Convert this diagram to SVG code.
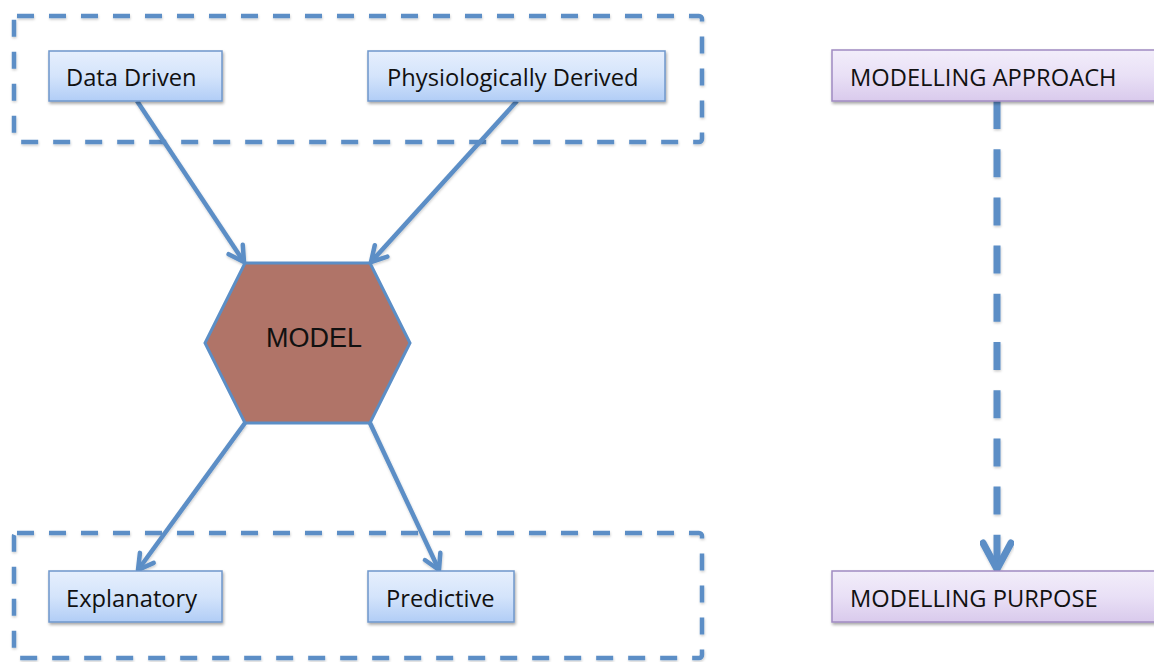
<svg xmlns="http://www.w3.org/2000/svg" width="1154" height="662" viewBox="0 0 1154 662">
  <style>
    .box { stroke: #6f97cb; stroke-width: 1.5; filter: url(#shadow); }
    .blue { fill: url(#blueFill); }
    .purple { fill: url(#purpleFill); stroke: #a08bc2; }
    .label { font-family: "Open Sans", "Liberation Sans", sans-serif; font-size: 23.7px; fill: #111; }
    .group { fill: none; stroke: #5b8ec6; stroke-width: 4.5; stroke-dasharray: 17 15; filter: url(#lineShadow); }
    .link { fill: none; stroke: #5b8ec6; stroke-width: 4.5; marker-end: url(#chevron); filter: url(#lineShadow); }
  </style>
  <defs>
    <linearGradient id="blueFill" x1="0" y1="0" x2="0" y2="1">
      <stop offset="0" stop-color="#e6effd"/>
      <stop offset="0.5" stop-color="#d4e4fb"/>
      <stop offset="1" stop-color="#b1cdf6"/>
    </linearGradient>
    <linearGradient id="purpleFill" x1="0" y1="0" x2="0" y2="1">
      <stop offset="0" stop-color="#f2edfa"/>
      <stop offset="0.5" stop-color="#e9e0f6"/>
      <stop offset="1" stop-color="#d9caec"/>
    </linearGradient>
    <filter id="shadow" x="-10%" y="-20%" width="120%" height="150%">
      <feDropShadow dx="1" dy="2" stdDeviation="1.5" flood-color="#000" flood-opacity="0.35"/>
    </filter>
    <filter id="lineShadow" x="-10%" y="-10%" width="120%" height="120%">
      <feDropShadow dx="0.5" dy="1.5" stdDeviation="1" flood-color="#000" flood-opacity="0.2"/>
    </filter>
    <marker id="chevron" markerUnits="userSpaceOnUse" viewBox="-20 -12 24 24" markerWidth="24" markerHeight="24" refX="0" refY="0" orient="auto" overflow="visible">
      <path d="M-15,-8.5 L0,0 L-15,8.5" fill="none" stroke="#5b8ec6" stroke-width="4.5" stroke-linecap="round" stroke-linejoin="round"/>
    </marker>
  </defs>

  <!-- dashed grouping frames -->
  <g id="frames">
    <rect class="group" x="14" y="16" width="688" height="126" rx="3"/>
    <rect class="group" x="14" y="533" width="688" height="125" rx="3"/>
  </g>

  <!-- connectors -->
  <g id="connectors">
    <line class="link" x1="137" y1="101" x2="244" y2="262"/>
    <line class="link" x1="517" y1="101" x2="371" y2="262"/>
    <line class="link" x1="245" y1="423" x2="138" y2="570"/>
    <line class="link" x1="370" y1="423" x2="439" y2="570"/>
    <g id="approach-to-purpose" filter="url(#lineShadow)">
      <line x1="997" y1="101" x2="997" y2="569" stroke="#5b8ec6" stroke-width="7" stroke-dasharray="28 20.2"/>
      <path d="M983,543 L997,569 L1011,543" fill="none" stroke="#5b8ec6" stroke-width="7" stroke-linecap="round" stroke-linejoin="round"/>
    </g>
  </g>

  <g id="data-driven">
    <rect class="box blue" x="49" y="51" width="173" height="50"/>
    <text class="label" x="66" y="86">Data Driven</text>
  </g>

  <g id="physiologically-derived">
    <rect class="box blue" x="368" y="51" width="297" height="50"/>
    <text class="label" x="387" y="86">Physiologically Derived</text>
  </g>

  <g id="model">
    <polygon points="245,263 370,263 410,343 370,423 245,423 205,343" fill="#b07468" stroke="#5b8ec6" stroke-width="3" stroke-linejoin="miter"/>
    <text x="314" y="347" text-anchor="middle" font-family="Liberation Sans, Arial, sans-serif" font-size="27" fill="#111">MODEL</text>
  </g>

  <g id="explanatory">
    <rect class="box blue" x="49" y="571" width="173" height="51"/>
    <text class="label" x="66" y="607">Explanatory</text>
  </g>

  <g id="predictive">
    <rect class="box blue" x="368" y="571" width="146" height="51"/>
    <text class="label" x="386" y="607">Predictive</text>
  </g>

  <g id="modelling-approach">
    <rect class="box purple" x="832" y="50" width="340" height="51"/>
    <text class="label" x="850" y="86">MODELLING APPROACH</text>
  </g>

  <g id="modelling-purpose">
    <rect class="box purple" x="832" y="571" width="340" height="51"/>
    <text class="label" x="850" y="607">MODELLING PURPOSE</text>
  </g>
</svg>
